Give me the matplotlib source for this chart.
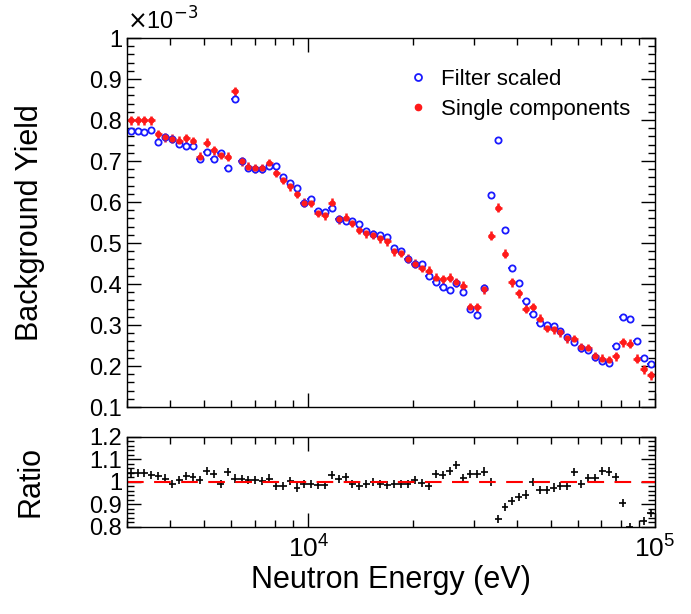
import numpy as np
import matplotlib
matplotlib.use("Agg")
import matplotlib.pyplot as plt
from matplotlib.ticker import MultipleLocator, LogLocator, NullFormatter, FixedLocator
from matplotlib.lines import Line2D

plt.rcParams['font.family'] = ['Liberation Sans', 'DejaVu Sans']

# 76 log bins, 50 per decade, starting at 3000 eV
nbins = 76
edges = 3000 * 10 ** (np.arange(nbins + 1) / 50.0)

single = [0.80, 0.80, 0.80, 0.80, 0.766, 0.758, 0.754, 0.750, 0.756, 0.748,
          0.71, 0.745, 0.726, 0.715, 0.71, 0.87, 0.70, 0.686, 0.682, 0.682,
          0.695, 0.672, 0.655, 0.638, 0.62, 0.598, 0.598, 0.574, 0.568, 0.598,
          0.558, 0.562, 0.55, 0.532, 0.524, 0.52, 0.512, 0.505, 0.48, 0.476,
          0.462, 0.45, 0.44, 0.432, 0.416, 0.412, 0.416, 0.404, 0.396, 0.344,
          0.344, 0.388, 0.518, 0.586, 0.474, 0.404, 0.378, 0.34, 0.344, 0.316,
          0.294, 0.29, 0.282, 0.268, 0.266, 0.246, 0.244, 0.224, 0.218, 0.214,
          0.224, 0.258, 0.254, 0.218, 0.192, 0.178]
filt = [0.774, 0.774, 0.772, 0.776, 0.747, 0.758, 0.754, 0.742, 0.736, 0.736,
        0.706, 0.723, 0.706, 0.72, 0.682, 0.851, 0.70, 0.684, 0.68, 0.68,
        0.688, 0.688, 0.662, 0.646, 0.635, 0.598, 0.608, 0.578, 0.576, 0.586,
        0.558, 0.555, 0.554, 0.546, 0.53, 0.523, 0.52, 0.515, 0.488, 0.48,
        0.46, 0.448, 0.448, 0.42, 0.406, 0.392, 0.386, 0.402, 0.38, 0.338,
        0.324, 0.39, 0.618, 0.752, 0.532, 0.44, 0.402, 0.358, 0.328, 0.306,
        0.30, 0.298, 0.285, 0.272, 0.258, 0.244, 0.24, 0.222, 0.212, 0.208,
        0.248, 0.32, 0.316, 0.262, 0.22, 0.204]
ratio = [1.038, 1.038, 1.04, 1.031, 1.024, 1.014, 0.991, 1.006, 1.024, 1.02,
         1.006, 1.048, 1.034, 0.989, 1.043, 1.014, 1.01, 1.006, 1.006, 1.003,
         1.014, 0.982, 0.982, 1.003, 0.974, 0.991, 0.989, 0.986, 0.986, 1.028,
         1.01, 1.02, 0.989, 0.982, 0.989, 1.0, 0.989, 0.986, 0.989, 0.989,
         0.991, 1.006, 0.996, 0.982, 1.034, 1.031, 1.048, 1.074, 1.017, 1.034,
         1.034, 1.045, 1.0, 0.833, 0.887, 0.915, 0.932, 0.943, 1.0, 0.963,
         0.963, 0.974, 0.982, 0.982, 1.043, 0.991, 1.017, 1.017, 1.048, 1.045,
         1.02, 0.904, 0.798, 0.777, 0.826, 0.862]

centers = np.sqrt(edges[:-1] * edges[1:])
xlo = centers - edges[:-1]
xhi = edges[1:] - centers

fig = plt.figure(figsize=(6.91, 6.14), dpi=100)
ax1 = fig.add_axes([0.184, 0.337, 0.764, 0.601])
ax2 = fig.add_axes([0.184, 0.142, 0.764, 0.147], sharex=ax1)

blue = '#1a1aff'
red = '#ff1a1a'
ax1.errorbar(centers, filt, xerr=[xlo, xhi], yerr=0.004, fmt='o', mfc='white',
             mec=blue, ecolor=blue, ms=4.5, mew=1.3, elinewidth=1.2, capsize=0)
ax1.errorbar(centers, single, xerr=[xlo, xhi], yerr=0.011, fmt='o', color=red,
             ms=3.5, elinewidth=1.8, capsize=0)

ax2.errorbar(centers, ratio, xerr=[xlo, xhi], yerr=0.018, fmt='none', ecolor='black',
             elinewidth=1.2, capsize=0)
ax2.axhline(1.0, color='red', ls=(0, (8, 5)), lw=1.5)

ax1.set_xscale('log')
ax1.set_xlim(3000, 1e5)
ax1.set_ylim(0.1, 1.0)
ax2.set_ylim(0.8, 1.2)

fmt = plt.FuncFormatter(lambda v, p: ('%g' % round(v, 2)))
for ax in (ax1, ax2):
    ax.tick_params(which='both', direction='in', top=True, right=True, labelsize=17)
    ax.tick_params(which='major', length=10, width=1)
    ax.tick_params(which='minor', length=5, width=1)
    for s in ax.spines.values():
        s.set_linewidth(1.0)
    ax.xaxis.set_minor_locator(LogLocator(base=10, subs=np.arange(2, 10)))
    ax.xaxis.set_minor_formatter(NullFormatter())
    ax.yaxis.set_major_locator(MultipleLocator(0.1))
    ax.yaxis.set_minor_locator(MultipleLocator(0.02))
    ax.yaxis.set_major_formatter(fmt)

ax1.tick_params(axis='x', labelbottom=False)
ax2.xaxis.set_major_locator(FixedLocator([1e4, 1e5]))
ax2.tick_params(axis='x', labelsize=19, pad=6)

ax1.set_ylabel('Background Yield', fontsize=22)
ax2.set_ylabel('Ratio', fontsize=22)
ax2.set_xlabel('Neutron Energy (eV)', fontsize=22, labelpad=2)
ax1.yaxis.set_label_coords(-0.155, 0.5)
ax2.yaxis.set_label_coords(-0.155, 0.5)

ax1.text(0.0, 1.01, r'$\times$10$^{-3}$', transform=ax1.transAxes, fontsize=17,
         va='bottom', ha='left')

handles = [Line2D([], [], ls='none', marker='o', mfc='white', mec=blue, mew=1.3, ms=5),
           Line2D([], [], ls='none', marker='o', color=red, ms=4.5)]
ax1.legend(handles, ['Filter scaled', 'Single components'], loc='upper right',
           bbox_to_anchor=(0.99, 0.97), frameon=False, fontsize=16,
           handletextpad=0.4, labelspacing=0.4, handlelength=1.2)

fig.savefig('out.png', dpi=100)
